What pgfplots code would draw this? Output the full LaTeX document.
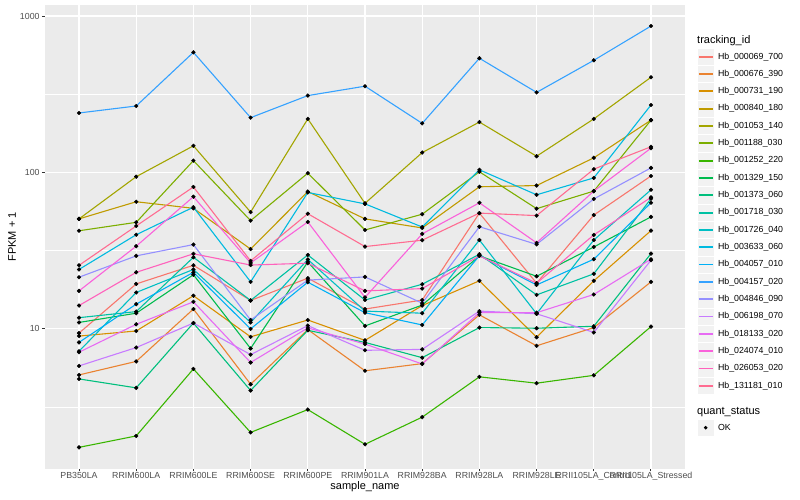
\documentclass[border=0pt]{standalone}
\usepackage{fontspec}
\setmainfont{Liberation Sans}
\usepackage{pgfplots}
\usepackage{pgfplotstable}
\pgfplotsset{compat=1.18}

\definecolor{panel}{HTML}{EBEBEB}
\definecolor{keybg}{HTML}{F2F2F2}
\definecolor{gray30}{HTML}{4D4D4D}
\definecolor{gray20}{HTML}{333333}
% ggplot hue palette, 20 levels
\definecolor{c1}{HTML}{F8766D}
\definecolor{c2}{HTML}{EA8331}
\definecolor{c3}{HTML}{D89000}
\definecolor{c4}{HTML}{C09B00}
\definecolor{c5}{HTML}{A3A500}
\definecolor{c6}{HTML}{7CAE00}
\definecolor{c7}{HTML}{39B600}
\definecolor{c8}{HTML}{00BB4E}
\definecolor{c9}{HTML}{00BF7D}
\definecolor{c10}{HTML}{00C1A3}
\definecolor{c11}{HTML}{00BFC4}
\definecolor{c12}{HTML}{00BAE0}
\definecolor{c13}{HTML}{00B0F6}
\definecolor{c14}{HTML}{35A2FF}
\definecolor{c15}{HTML}{9590FF}
\definecolor{c16}{HTML}{C77CFF}
\definecolor{c17}{HTML}{E76BF3}
\definecolor{c18}{HTML}{FA62DB}
\definecolor{c19}{HTML}{FF62BC}
\definecolor{c20}{HTML}{FF6C91}

% FPKM + 1, one row per sample, one column per tracking_id
\pgfplotstableread{
x  s1   s2   s3   s4   s5   s6   s7    s8    s9   s10  s11  s12  s13  s14 s15  s16  s17   s18  s19  s20
0  9.4  5.08 9.0  50.5 50.5 42.4 1.75  11.0  4.79 11.8 7.2  24.0 8.2  240 21.4 5.8  7.1   17.5 14.1 25.5
1  19.4 6.2  9.7  65   94   48   2.07  12.6  4.2  12.9 17.1 40   14.4 266 29.3 7.6  10.7  33.8 23.0 45.5
2  25.5 13.4 16.3 59   148  119  5.55  22.2  10.9 28.7 24   60   23.0 586 34.6 10.9 14.9  70   30.2 80.8
3  15.2 4.43 8.9  32.4 55.8 49.2 2.18  7.5   4.04 15.2 11.0 20.0 10.0 224 11.4 6.85 6.1   26.4 25.6 27.2
4  21.1 9.9  11.4 75.5 220  99   3.05  26.8  9.8  29.7 27.8 74.5 19.9 310 20.5 10.5 10.15 48.3 26.3 54.5
5  13.4 5.4  8.45 50.5 63.5 42.9 1.83  10.45 8.2  15.3 13.0 63   12.7 356 21.5 7.3  8.0   15.9 17.5 33.6
6  15.3 6.0  14.1 44.2 134  54.1 2.73  14.2  6.55 19.3 12.6 44.8 10.6 206 14.6 7.4  5.97  40.5 18.1 36.9
7  55   12.3 20.3 81   210  101  4.94  29.3  10.2 30   37   104  29.4 537 45   13.0 12.7  64   29.3 55
8  19.6 7.8  8.85 82.5 127  58.7 4.5   21.7  10.1 16.5 12.5 72   19.1 325 34.7 12.5 12.7  35.5 19.6 53
9  53.4 10.2 20.3 124  220  76   5.05  33.4  10.4 22.5 37   92.3 27.9 521 67.7 9.5  16.6  76   39.9 105
10 95   20   42.5 216  406  216  10.35 52    30.3 68   77.5 270  64   863 107  27.5 27.9  143  69.3 146
}\fpkm

\begin{document}
\begin{tikzpicture}[x=1pt,y=1pt]
\useasboundingbox (0,0) rectangle (800,500);
\begin{axis}[
  at={(44.7pt,31.4pt)}, anchor=south west,
  width=640.6pt, height=463.6pt, scale only axis,
  ymode=log, ymin=1.28, ymax=1176,
  xmin=-0.6, xmax=10.6,
  xtick={0,...,10},
  xticklabels={PB350LA,RRIM600LA,RRIM600LE,RRIM600SE,RRIM600PE,RRIM901LA,RRIM928BA,RRIM928LA,RRIM928LE,RRII105LA\_Control,RRII105LA\_Stressed},
  ytick={10,100,1000}, yticklabels={10,100,1000},
  minor ytick={3.1623,31.623,316.23},
  grid=both,
  major grid style={white, line width=1.1pt},
  minor grid style={white, line width=0.55pt},
  axis background/.style={fill=panel},
  axis line style={draw=none},
  xtick pos=bottom, ytick pos=left,
  tick align=outside, major tick length=2.75pt, minor tick length=0pt,
  tick style={gray20, line width=1pt},
  tick label style={inner sep=0pt, text=gray30, font=\fontsize{8.8}{10}\selectfont},
  yticklabel style={anchor=east, xshift=-2.2pt},
  xticklabel style={anchor=north, yshift=-0.4pt},
  /pgf/number format/assume math mode=true,
  clip=false,
]
\pgfplotsinvokeforeach{1,...,20}{
  \addplot[color=c#1, line width=1.1pt, mark=none] table[x=x, y=s#1]{\fpkm};
}
\pgfplotsinvokeforeach{1,...,20}{
  \addplot[only marks, mark=*, mark size=1.9pt, black] table[x=x, y=s#1]{\fpkm};
}
\end{axis}

% axis titles
\node[font=\fontsize{11}{13}\selectfont] at (365,13) {sample\_name};
\node[font=\fontsize{11}{13}\selectfont, rotate=90] at (12,263.2) {FPKM + 1};

% legend: tracking_id
\node[anchor=west, inner sep=0pt, font=\fontsize{11}{13}\selectfont] at (697,459.3) {tracking\_id};
\foreach \i/\lab in {1/000069\_700, 2/000676\_390, 3/000731\_190, 4/000840\_180,
  5/001053\_140, 6/001188\_030, 7/001252\_220, 8/001329\_150, 9/001373\_060,
  10/001718\_030, 11/001726\_040, 12/003633\_060, 13/004057\_010, 14/004157\_020,
  15/004846\_090, 16/006198\_070, 17/018133\_020, 18/024074\_010, 19/026053\_020,
  20/131181\_010}{
  \pgfmathsetmacro\yc{500-56.7-17.32*(\i-1)}
  \filldraw[fill=keybg, draw=white, line width=0.6pt] (697,\yc-8.64) rectangle (714.3,\yc+8.64);
  \draw[c\i, line width=1.9pt] (698.8,\yc) -- (712.5,\yc);
  \node[anchor=west, inner sep=0pt, font=\fontsize{8.8}{10}\selectfont] at (717.8,\yc) {Hb\_\lab};
}

% legend: quant_status
\node[anchor=west, inner sep=0pt, font=\fontsize{11}{13}\selectfont] at (697,88.3) {quant\_status};
\filldraw[fill=keybg, draw=white, line width=0.6pt] (697,72.3-8.64) rectangle (714.3,72.3+8.64);
\fill[black] (705.65,72.3) circle (1.9);
\node[anchor=west, inner sep=0pt, font=\fontsize{8.8}{10}\selectfont] at (717.8,72.3) {OK};
\end{tikzpicture}
\end{document}
